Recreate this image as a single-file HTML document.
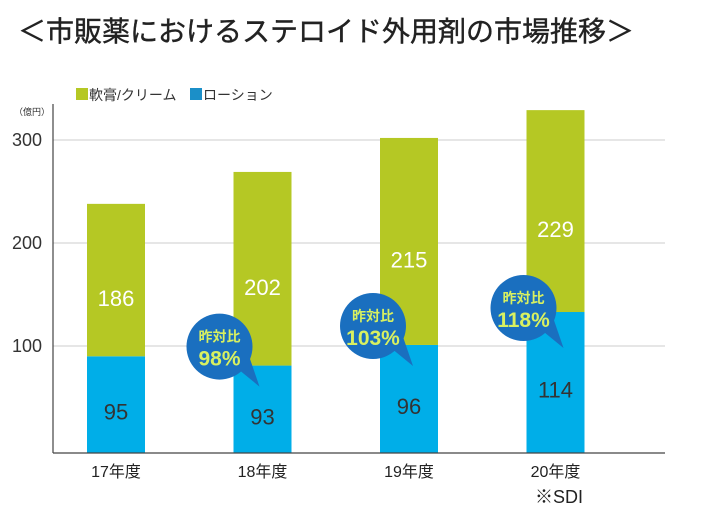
<!DOCTYPE html>
<html><head><meta charset="utf-8"><style>
body{margin:0;background:#fff;width:701px;height:513px;overflow:hidden;font-family:"Liberation Sans","Noto Sans CJK JP",sans-serif}
</style></head><body>
<svg width="701" height="513" viewBox="0 0 701 513" font-family="Liberation Sans, Noto Sans CJK JP, sans-serif">
<text x="18" y="41" font-size="28" fill="#222" stroke="#222" stroke-width="0.4">＜市販薬におけるステロイド外用剤の市場推移＞</text>
<g>
<rect x="76" y="88" width="12" height="12" fill="#b5c824"/>
<text x="89" y="100" font-size="14" fill="#333">軟膏/クリーム</text>
<rect x="190" y="88" width="12" height="12" fill="#1b8fc8"/>
<text x="203" y="100" font-size="14" fill="#333">ローション</text>
</g>
<text x="14" y="115" font-size="9" fill="#333">（億円）</text>
<g id="grid"></g>
<g id="bars"></g>
<line x1="53" y1="104" x2="53" y2="453" stroke="#444" stroke-width="1.2"/>
<line x1="53" y1="453" x2="665" y2="453" stroke="#444" stroke-width="1.2"/>
<g id="bubbles"></g>
<text x="535" y="503" font-size="18" fill="#222">※SDI</text>
</svg>
<script>
const categories=["17年度","18年度","19年度","20年度"];
const lotionValues=[95,93,96,114];
const creamValues=[186,202,215,229];
// heights as plotted on the axis in the picture
const lotionPlotted=[90,81,101,133];
const creamPlotted=[148,188,201,196];
const yTicks=[100,200,300];
const growthLabels=[null,"98%","103%","118%"];
const NS="http://www.w3.org/2000/svg";
const y0=449,pxPer=1.03;
const yS=v=>y0-v*pxPer;
const xC=i=>116+i*146.5;
const bw=58;
const bubbleDx=[0,-43,-36,-32];
const bubbleDy=[0,-19,-19,-4];
function mk(tag,attrs,parent,text){const e=document.createElementNS(NS,tag);for(const k in attrs)e.setAttribute(k,attrs[k]);if(text!=null)e.textContent=text;parent.appendChild(e);return e;}
const grid=document.getElementById('grid'),bars=document.getElementById('bars'),bub=document.getElementById('bubbles');
yTicks.forEach(t=>{
 const l=mk('line',{x1:53,x2:665,y1:yS(t),y2:yS(t),stroke:'#ccc','stroke-width':1},grid);
 
 
 const tx=mk('text',{x:42,y:yS(t)+6,'text-anchor':'end','font-size':18,fill:'#333'},grid,String(t));
 
 
});
categories.forEach((c,i)=>{
 const x=xC(i)-bw/2;
 const yl=yS(lotionPlotted[i]),yc=yS(lotionPlotted[i]+creamPlotted[i]);
 const b1=mk('rect',{x:x,y:yl,width:bw,height:y0+4-yl,fill:'#00aee8'},bars);
 
 
 const b2=mk('rect',{x:x,y:yc,width:bw,height:yl-yc,fill:'#b5c824'},bars);
 
 
 const t1=mk('text',{x:xC(i),y:(yl+y0)/2+17,'text-anchor':'middle','font-size':22,fill:'#333'},bars,String(lotionValues[i]));
 
 
 const t2=mk('text',{x:xC(i),y:(yc+yl)/2+26,'text-anchor':'middle','font-size':22,fill:'#fff'},bars,String(creamValues[i]));
 
 
 const xl=mk('text',{x:xC(i),y:477,'text-anchor':'middle','font-size':16,fill:'#222'},bars,c);
 
 
 if(growthLabels[i]){
  const cx=xC(i)+bubbleDx[i],cy=yl+bubbleDy[i];
  const g=mk('g',{},bub);
  
  
  mk('path',{d:`M${cx+18} ${cy+22} L${cx+40} ${cy+40} L${cx+29} ${cy+8} Z`,fill:'#1a6fbf'},g);
  mk('circle',{cx:cx,cy:cy,r:33,fill:'#1a6fbf'},g);
  mk('text',{x:cx,y:cy-5,'text-anchor':'middle','font-size':14,'font-weight':'bold',fill:'#d8f060'},g,'昨対比');
  mk('text',{x:cx,y:cy+19,'text-anchor':'middle','font-size':21,'font-weight':'bold',fill:'#d8f060'},g,growthLabels[i]);
 }
});
</script>
</body></html>
